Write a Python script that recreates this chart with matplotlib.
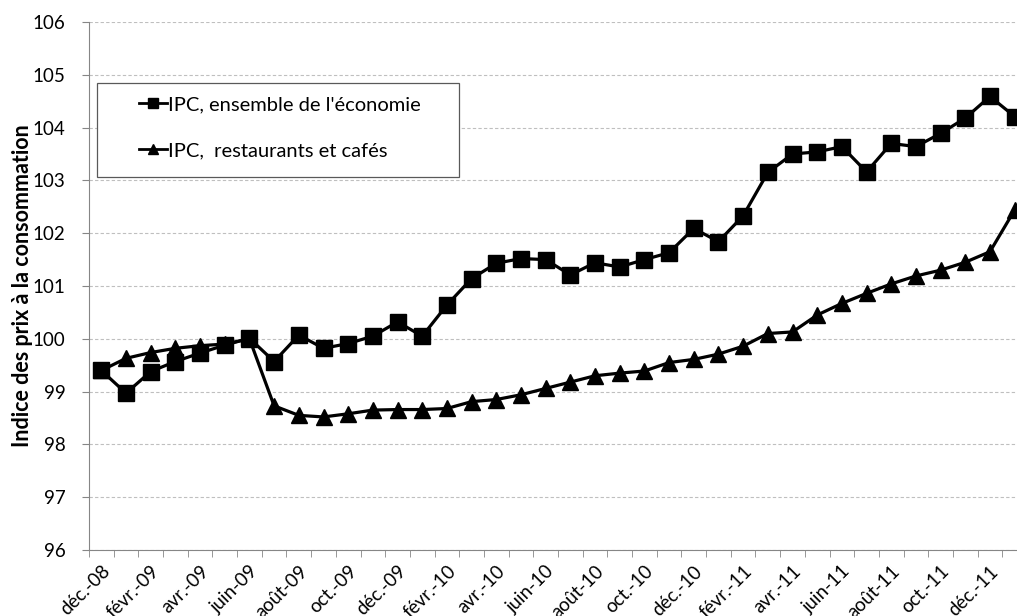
import matplotlib
matplotlib.use("Agg")
import matplotlib.pyplot as plt
import matplotlib.patches as patches
import matplotlib.transforms as mtransforms
import numpy as np

plt.rcParams['font.family'] = ['Lato', 'DejaVu Sans']

# monthly index, déc.-08 .. janv.-12
ipc_total = [99.40, 98.97, 99.38, 99.57, 99.73, 99.88, 100.01, 99.57, 100.07, 99.82,
             99.91, 100.05, 100.32, 100.05, 100.64, 101.14, 101.43, 101.52, 101.50, 101.21,
             101.44, 101.36, 101.50, 101.63, 102.09, 101.84, 102.33, 103.15, 103.50, 103.54,
             103.64, 103.16, 103.70, 103.64, 103.89, 104.18, 104.59, 104.21]
ipc_resto = [99.40, 99.63, 99.74, 99.82, 99.87, 99.90, 100.00, 98.73, 98.55, 98.52,
             98.58, 98.65, 98.66, 98.66, 98.68, 98.81, 98.85, 98.94, 99.06, 99.18,
             99.30, 99.35, 99.39, 99.55, 99.61, 99.71, 99.86, 100.10, 100.13, 100.45,
             100.67, 100.86, 101.04, 101.19, 101.30, 101.45, 101.65, 102.44]
tick_labels = ["déc.-08", "févr.-09", "avr.-09", "juin-09", "août-09", "oct.-09",
               "déc.-09", "févr.-10", "avr.-10", "juin-10", "août-10", "oct.-10",
               "déc.-10", "févr.-11", "avr.-11", "juin-11", "août-11", "oct.-11",
               "déc.-11"]
series_names = ["IPC, ensemble de l'économie", "IPC,  restaurants et cafés"]

fig = plt.figure(figsize=(10.17, 6.16), dpi=100)
ax = fig.add_axes([89/1017, 66/616, (1027-89)/1017, (594-66)/616])

x = np.arange(len(ipc_total))
l1, = ax.plot(x, ipc_total, color='black', lw=2.3, marker='s', markersize=11.5, zorder=3)
l2, = ax.plot(x, ipc_resto, color='black', lw=2.3, marker='^', markersize=12, zorder=3)

ax.set_xlim(-0.5, len(x) - 0.5)
ax.set_ylim(96, 106)
ax.set_yticks(range(96, 107))
ax.set_xticks(x[::2])
ax.set_xticklabels(tick_labels, rotation=45, ha='right', rotation_mode='anchor', fontsize=13.5)
shift = mtransforms.ScaledTranslation(5/100, 0, fig.dpi_scale_trans)
for lab in ax.get_xticklabels():
    lab.set_transform(lab.get_transform() + shift)
ax.set_xticks(np.arange(-0.5, len(x)), minor=True)
ax.tick_params(axis='x', which='major', length=0, pad=9)
ax.tick_params(axis='x', which='minor', length=5, color='#868686', direction='out')
ax.tick_params(axis='y', length=5, color='#868686', pad=12, labelsize=13.5)

ax.grid(axis='y', color='#BFBFBF', linestyle=(0, (3, 2)), lw=0.8)
ax.set_axisbelow(True)
for s in ['top', 'right']:
    ax.spines[s].set_visible(False)
for s in ['left', 'bottom']:
    ax.spines[s].set_color('#868686')

ax.set_ylabel("Indice des prix à la consommation", fontsize=15.5, fontweight='bold')
ax.yaxis.set_label_coords(-0.060, 0.5)

# legend box
frame = patches.Rectangle((97/1017, 1 - 177/616), 362/1017, 94/616, transform=fig.transFigure,
                          facecolor='white', edgecolor='#595959', lw=0.9, zorder=2)
fig.patches.append(frame)
leg = fig.legend([l1, l2], series_names, loc='upper left', bbox_to_anchor=(139/1017, 1 - 96/616),
                 frameon=False, borderpad=0, borderaxespad=0, handlelength=1.4,
                 handletextpad=0.05, labelspacing=1.45, fontsize=14.5, markerscale=0.6)
for h in leg.legend_handles:
    h.set_linewidth(2)
leg.set_zorder(6)

fig.savefig("out.png", dpi=100)
